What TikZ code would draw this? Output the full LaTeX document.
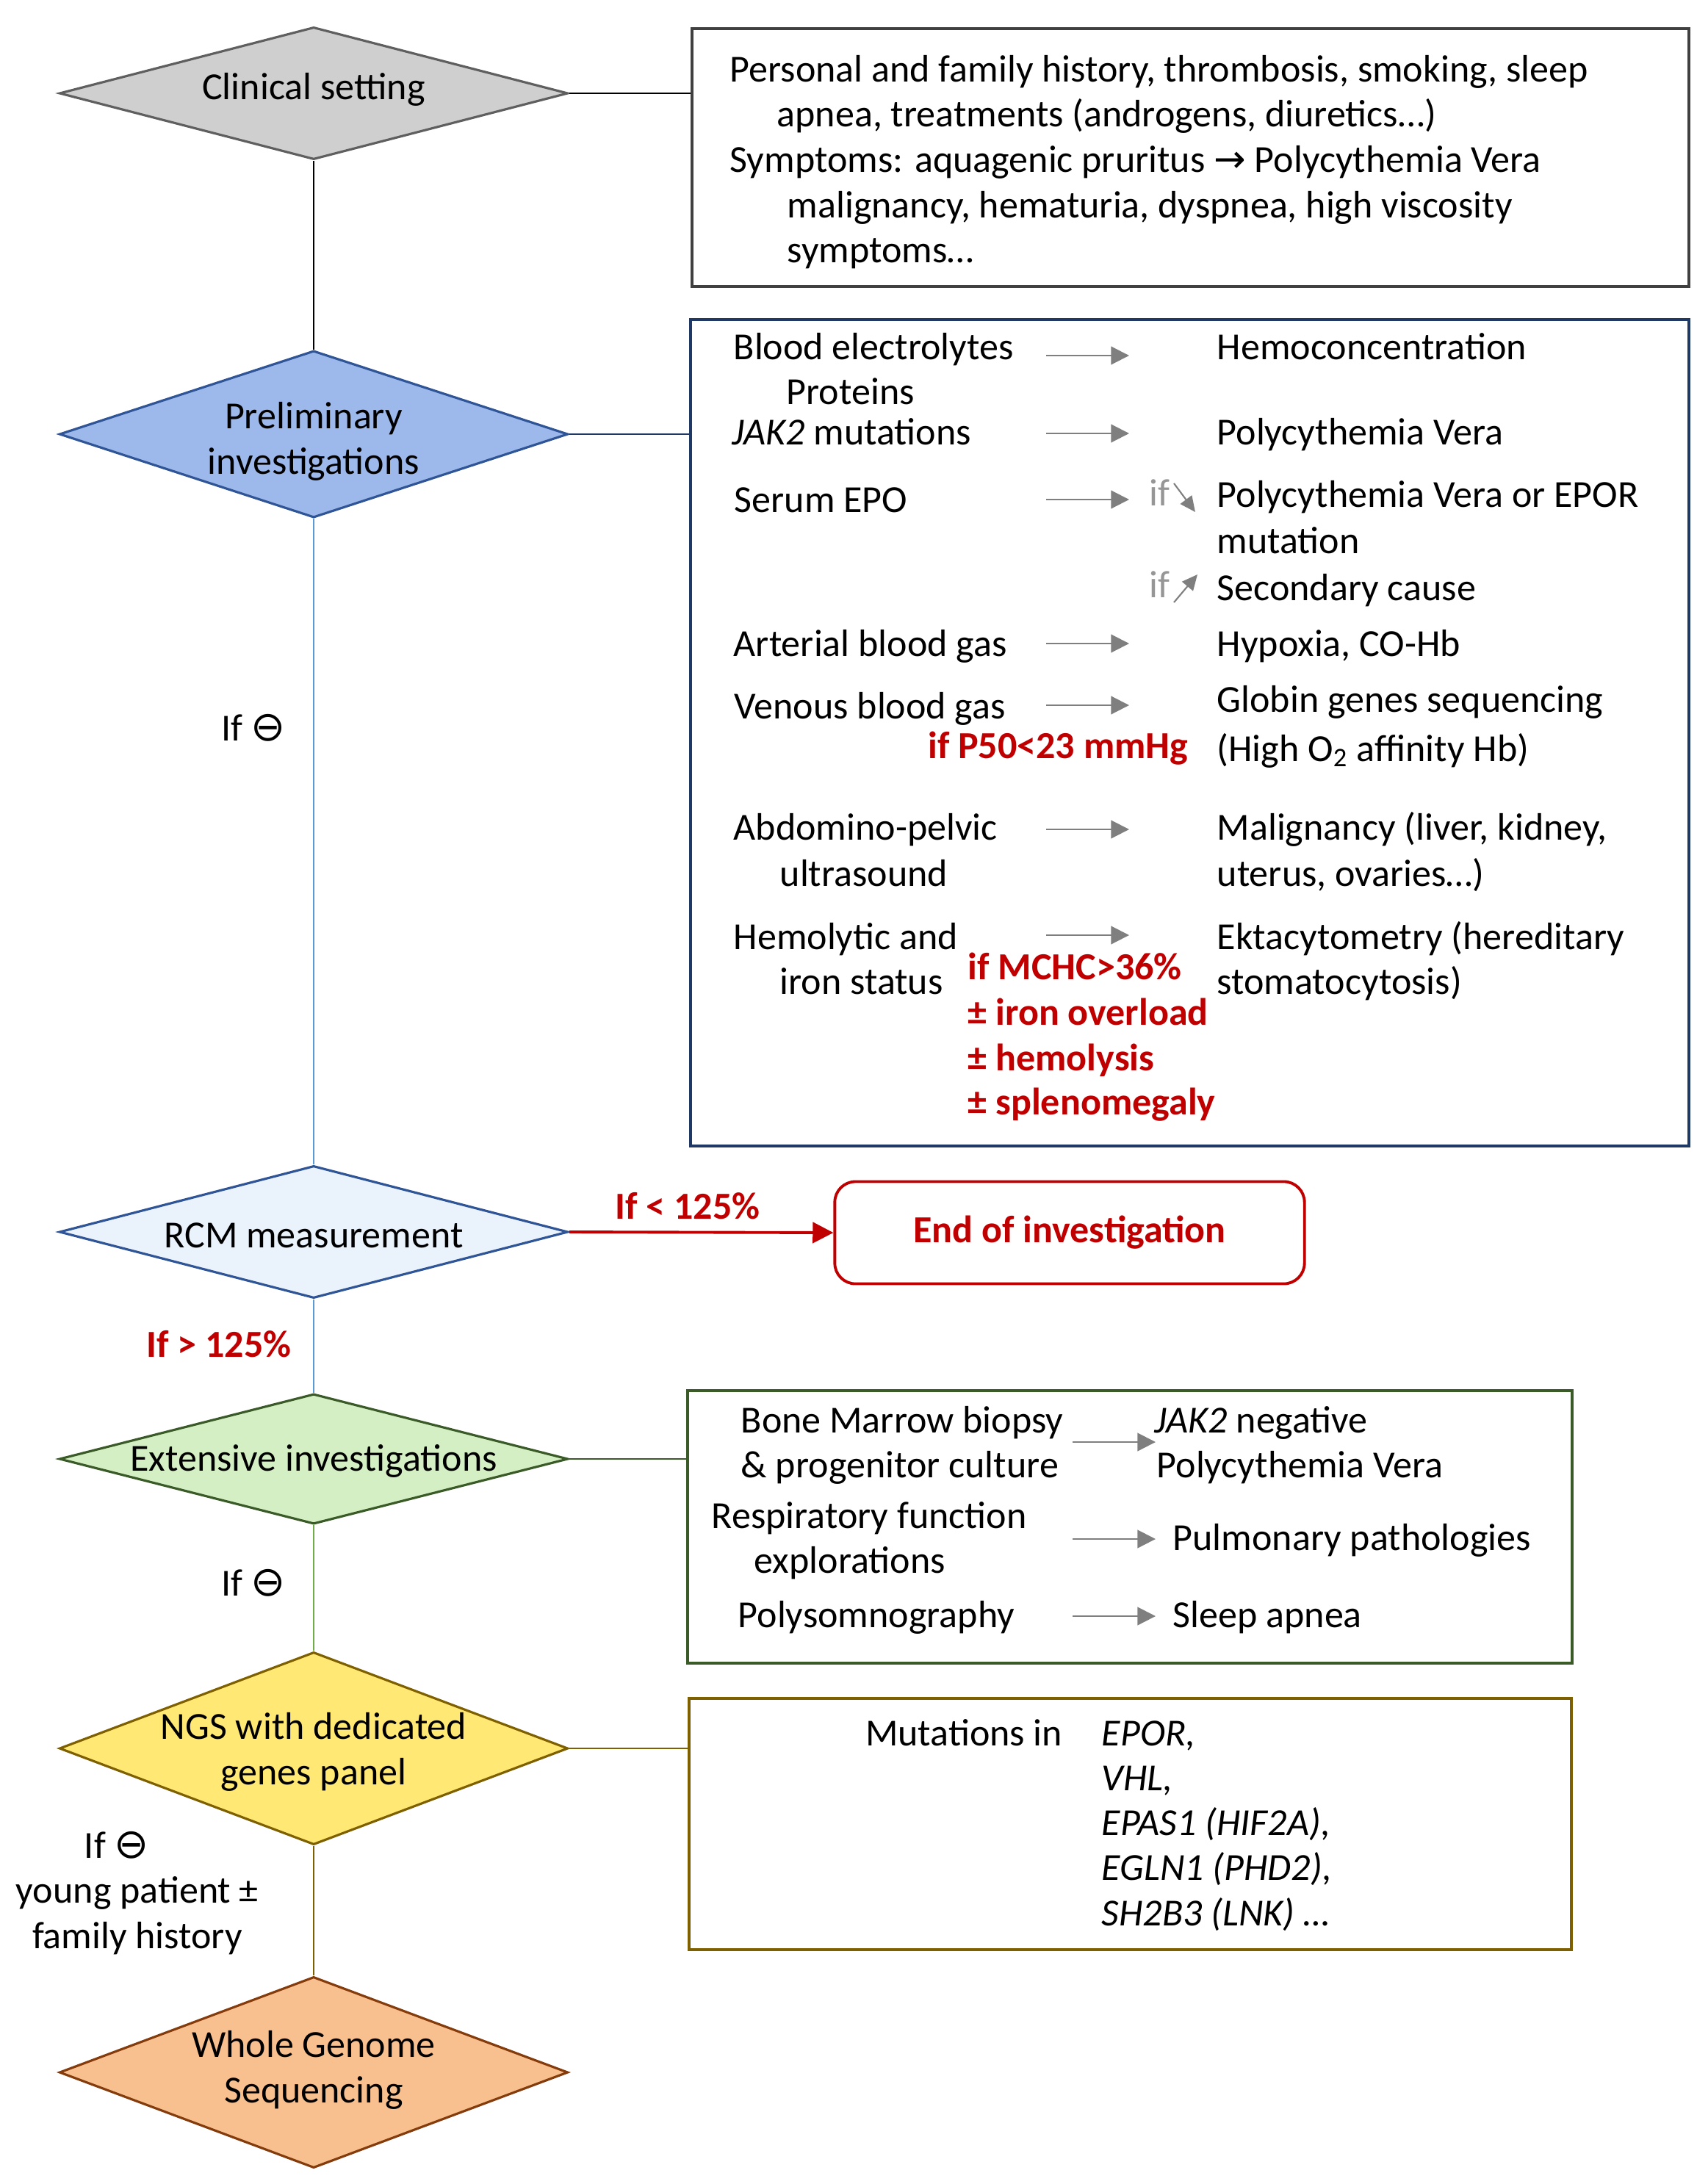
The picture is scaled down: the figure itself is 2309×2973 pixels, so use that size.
\documentclass[tikz,border=0pt]{standalone}
\usepackage{fontspec}
\setmainfont{Carlito}
\newfontfamily\symfont{DejaVu Sans}
\usetikzlibrary{arrows.meta,shapes.geometric}
\definecolor{cgray}{RGB}{207,207,207}
\definecolor{cgrayd}{RGB}{95,95,95}
\definecolor{pblue}{RGB}{157,184,234}
\definecolor{pblued}{RGB}{47,85,151}
\definecolor{rblue}{RGB}{234,242,252}
\definecolor{lblue}{RGB}{91,155,213}
\definecolor{egreen}{RGB}{213,239,197}
\definecolor{egreend}{RGB}{58,90,40}
\definecolor{lgreen}{RGB}{112,173,71}
\definecolor{nyellow}{RGB}{255,232,115}
\definecolor{nolive}{RGB}{127,96,0}
\definecolor{worange}{RGB}{249,192,143}
\definecolor{wbrown}{RGB}{132,60,12}
\definecolor{bnavy}{RGB}{32,56,100}
\definecolor{bdark}{RGB}{64,64,64}
\definecolor{ired}{RGB}{192,0,0}
\definecolor{agray}{RGB}{127,127,127}
\definecolor{igray}{RGB}{150,150,150}
\newcommand{\bodysize}{\fontsize{14.8}{17.5}\selectfont}
\newcommand{\negsign}{{\symfont\fontsize{16}{17.5}\selectfont ⊖}}

\begin{document}
\begin{tikzpicture}[x=0.01cm,y=-0.01cm,
  dmd/.style={diamond,line width=0.9pt,inner sep=0pt,minimum width=6.92cm},
  dtxt/.style={font=\bodysize,align=center,inner sep=0pt},
  infobox/.style={draw,rectangle,line width=1.1pt,anchor=north west,inner sep=0pt},
  endbox/.style={draw=ired,line width=1.1pt,rounded corners=8pt,inner sep=0pt,
    minimum width=6.39cm,minimum height=1.39cm,font=\bodysize\bfseries,text=ired},
  txt/.style={font=\bodysize,inner sep=0pt,anchor=base west},
  gene/.style={font=\bodysize\itshape,inner sep=0pt,anchor=base west},
  redtxt/.style={font=\bodysize\bfseries,text=ired,inner sep=0pt,anchor=base west},
  iftxt/.style={font=\bodysize,text=igray,inner sep=0pt,anchor=base west},
  garr/.style={-{Triangle[length=7pt,width=7pt]},line width=0.6pt,agray},
  sarr/.style={-{Triangle[length=6pt,width=5.5pt]},line width=0.6pt,agray},
  link/.style={line width=0.6pt}
]
  \useasboundingbox (0,0) rectangle (2309,2973);

  % Decision diamonds
  \node[dmd,draw=cgrayd,fill=cgray,minimum height=1.8cm] (cs) at (427,127) {};
  \node[dmd,draw=pblued,fill=pblue,minimum height=2.27cm] (pi) at (427,591) {};
  \node[dmd,draw=pblued,fill=rblue,minimum height=1.8cm] (rcm) at (427,1677) {};
  \node[dmd,draw=egreend,fill=egreen,minimum height=1.77cm] (ei) at (427,1986) {};
  \node[dmd,draw=nolive,fill=nyellow,minimum height=2.62cm] (ngs) at (427,2380) {};
  \node[dmd,draw=wbrown,fill=worange,minimum height=2.6cm] (wgs) at (427,2821) {};
  \node[dtxt] (cst) at (427,122) {Clinical setting};
  \node[dtxt] (pit) at (427,601) {Preliminary\\investigations};
  \node[dtxt] (rcmt) at (427,1682) {RCM measurement};
  \node[dtxt] (eit) at (427,1989) {Extensive investigations};
  \node[dtxt] (ngst) at (427,2385) {NGS with dedicated\\genes panel};
  \node[dtxt] (wgst) at (427,2818) {Whole Genome\\Sequencing};

  % Info boxes
  \node[infobox,draw=bdark,minimum width=13.56cm,minimum height=3.51cm] (b1) at (940,37) {};
  \node[infobox,draw=bnavy,minimum width=13.58cm,minimum height=11.24cm] (b2) at (938,433) {};
  \node[infobox,draw=egreend,minimum width=12.03cm,minimum height=3.71cm] (b3) at (934,1891) {};
  \node[infobox,draw=nolive,minimum width=12.0cm,minimum height=3.42cm] (b4) at (936,2310) {};
  \node[endbox] (end) at (1456,1678) {End of investigation};

  % Connectors
  \draw[link,line width=0.8pt] (cs.east) -- (cs.east -| b1.west);
  \draw[link,bnavy] (pi.east) -- (pi.east -| b2.west);
  \draw[link,egreend] (ei.east) -- (ei.east -| b3.west);
  \draw[link,nolive] (ngs.east) -- (ngs.east -| b4.west);
  \draw[link] (cs.south) -- (pi.north);
  \draw[link,lblue] (pi.south) -- (rcm.north);
  \draw[link,lblue] (rcm.south) -- (ei.north);
  \draw[link,lgreen] (ei.south) -- (ngs.north);
  \draw[link,nolive] (ngs.south) -- (wgs.north);
  \draw[line width=1.1pt,ired,-{Triangle[length=8pt,width=8pt]}] (rcm.east) -- (end.west);

  % Branch labels
  \node[dtxt] (neg1) at (345,991) {If \negsign};
  \node[dtxt] (neg2) at (345,2155) {If \negsign};
  \node[dtxt] (neg3) at (187,2577) {If \negsign\hspace*{16pt}\\young patient ±\\family history};
  \node[redtxt,anchor=center] (lt) at (936,1642) {If < 125\%};
  \node[redtxt,anchor=center] (gt) at (298,1830) {If > 125\%};

  % Clinical setting box
  \node[txt] (h1) at (993,112) {Personal and family history, thrombosis, smoking, sleep};
  \node[txt] (h2) at (1057,173) {apnea, treatments (androgens, diuretics…)};
  \node[txt] (h3) at (993,235) {Symptoms: aquagenic pruritus {\symfont →} Polycythemia Vera};
  \node[txt] (h4) at (1071,297) {malignancy, hematuria, dyspnea, high viscosity};
  \node[txt] (h5) at (1071,358) {symptoms…};

  % Preliminary investigations box
  \node[txt] (be) at (998,489) {Blood electrolytes};
  \node[txt] (pr) at (1070,550) {Proteins};
  \node[txt] (hc) at (1656,489) {Hemoconcentration};
  \node[txt] (jk) at (996,605) {\textit{JAK2} mutations};
  \node[txt] (pv) at (1656,605) {Polycythemia Vera};
  \node[txt] (se) at (999,697) {Serum EPO};
  \node[iftxt] (if1) at (1564,688) {if};
  \node[txt] (pve) at (1656,690) {Polycythemia Vera or EPOR};
  \node[txt] (mu) at (1656,753) {mutation};
  \node[iftxt] (if2) at (1564,813) {if};
  \node[txt] (sc) at (1656,817) {Secondary cause};
  \node[txt] (ab) at (998,893) {Arterial blood gas};
  \node[txt] (hx) at (1656,893) {Hypoxia, CO-Hb};
  \node[txt] (vb) at (999,978) {Venous blood gas};
  \node[txt] (gg) at (1656,969) {Globin genes sequencing};
  \node[txt] (ha) at (1656,1036) {(High O\textsubscript{2} affinity Hb)};
  \node[redtxt,anchor=base east] (p50) at (1618,1032) {if P50<23 mmHg};
  \node[txt] (ap) at (998,1143) {Abdomino-pelvic};
  \node[txt] (us) at (1061,1206) {ultrasound};
  \node[txt] (ml) at (1656,1143) {Malignancy (liver, kidney,};
  \node[txt] (ut) at (1656,1206) {uterus, ovaries…)};
  \node[txt] (hm) at (998,1292) {Hemolytic and};
  \node[txt] (is) at (1061,1353) {iron status};
  \node[txt] (ek) at (1656,1292) {Ektacytometry (hereditary};
  \node[txt] (st) at (1656,1353) {stomatocytosis)};
  \node[redtxt] (mchc) at (1317,1333) {if MCHC>36\%};
  \node[redtxt] (io) at (1317,1395) {± iron overload};
  \node[redtxt] (hl) at (1317,1457) {± hemolysis};
  \node[redtxt] (sp) at (1317,1517) {± splenomegaly};
  \foreach \y [count=\i] in {484,590,680,876,960,1129,1273} {
    \coordinate (s\i) at (1424,\y);
    \coordinate (e\i) at (1537,\y);
    \draw[garr] (s\i) -- (e\i);
  }
  \coordinate (d1s) at (1598,658);
  \coordinate (d1e) at (1627,697);
  \coordinate (d2s) at (1598,820);
  \coordinate (d2e) at (1630,782);
  \draw[sarr] (d1s) -- (d1e);
  \draw[sarr] (d2s) -- (d2e);

  % Extensive investigations box
  \node[txt] (bm) at (1008,1950) {Bone Marrow biopsy};
  \node[txt] (pc) at (1008,2011) {\& progenitor culture};
  \node[txt] (jn) at (1571,1950) {\textit{JAK2} negative};
  \node[txt] (pv2) at (1574,2011) {Polycythemia Vera};
  \node[txt] (rf) at (968,2080) {Respiratory function};
  \node[txt] (ex) at (1026,2141) {explorations};
  \node[txt] (pp) at (1596,2110) {Pulmonary pathologies};
  \node[txt] (ps) at (1004,2215) {Polysomnography};
  \node[txt] (sa) at (1596,2215) {Sleep apnea};
  \foreach \y [count=\i] in {1963,2095,2200} {
    \coordinate (t\i) at (1460,\y);
    \coordinate (u\i) at (1573,\y);
    \draw[garr] (t\i) -- (u\i);
  }

  % NGS box
  \node[txt,anchor=base east] (mi) at (1447,2376) {Mutations in};
  \node[gene] (g1) at (1499,2376) {EPOR,};
  \node[gene] (g2) at (1499,2437) {VHL,};
  \node[gene] (g3) at (1499,2498) {EPAS1 (HIF2A),};
  \node[gene] (g4) at (1499,2559) {EGLN1 (PHD2),};
  \node[gene] (g5) at (1499,2621) {SH2B3 (LNK) …};
\end{tikzpicture}
\end{document}
